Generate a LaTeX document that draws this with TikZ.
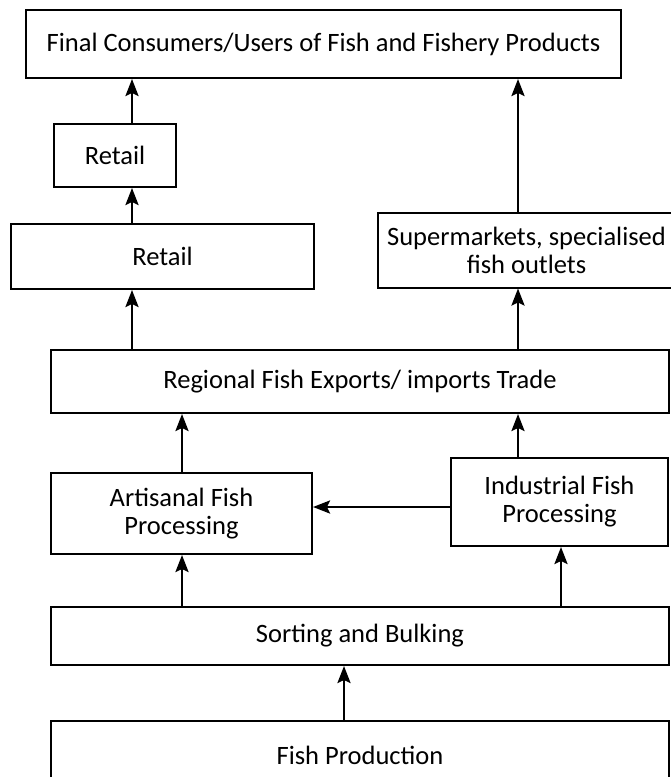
\documentclass[tikz,border=0pt]{standalone}
\usepackage{fontspec}
\setmainfont{Carlito}
\usetikzlibrary{arrows.meta}

\begin{document}
\begin{tikzpicture}[x=1pt,y=-1pt,
  box/.style={draw, line width=2pt, inner sep=0pt, align=center,
    font=\fontsize{26.5}{28}\selectfont},
  arr/.style={-{Stealth[length=17pt,width=13pt,inset=3pt]}, line width=2.6pt}]
\useasboundingbox (0,0) rectangle (671,777);

  % Top
  \node[box, minimum width=595pt, minimum height=68pt] (final) at (323.5,44)
    {Final Consumers/Users of Fish and Fishery Products};

  % Left (retail) side
  \node[box, minimum width=122pt, minimum height=63pt] (retailA) at (115,155.5) {Retail};
  \node[box, minimum width=303pt, minimum height=65pt] (retailB) at (162.5,256.5) {Retail};

  % Right side
  \node[box, minimum width=297pt, minimum height=75pt] (super) at (526.5,250)
    {Supermarkets, specialised\\fish outlets};

  % Trade and processing
  \node[box, minimum width=618pt, minimum height=63pt] (trade) at (360,381.5)
    {Regional Fish Exports/ imports Trade};
  \node[box, minimum width=261pt, minimum height=81pt] (artisanal) at (181.5,513.5)
    {Artisanal Fish\\Processing};
  \node[box, minimum width=217pt, minimum height=88pt] (industrial) at (559.5,502)
    {Industrial Fish\\Processing};

  % Bottom
  \node[box, minimum width=618pt, minimum height=58pt] (sorting) at (360,636)
    {Sorting and Bulking};
  \node[box, minimum width=618pt, minimum height=68pt] (production) at (360,755)
    {Fish Production};

  % Arrow columns
  \coordinate (xretail) at (132,0);
  \coordinate (xsuper) at (518,0);
  \coordinate (xart) at (182,0);
  \coordinate (xind) at (561,0);
  \coordinate (xprod) at (344,0);

  \draw[arr] (retailA.north -| xretail) -- (final.south -| xretail);
  \draw[arr] (retailB.north -| xretail) -- (retailA.south -| xretail);
  \draw[arr] (trade.north -| xretail) -- (retailB.south -| xretail);
  \draw[arr] (super.north -| xsuper) -- (final.south -| xsuper);
  \draw[arr] (trade.north -| xsuper) -- (super.south -| xsuper);
  \draw[arr] (artisanal.north -| xart) -- (trade.south -| xart);
  \draw[arr] (industrial.north -| xsuper) -- (trade.south -| xsuper);
  \draw[arr] (industrial.west |- 0,507) -- (artisanal.east |- 0,507);
  \draw[arr] (sorting.north -| xart) -- (artisanal.south -| xart);
  \draw[arr] (sorting.north -| xind) -- (industrial.south -| xind);
  \draw[arr] (production.north -| xprod) -- (sorting.south -| xprod);
\end{tikzpicture}
\end{document}
